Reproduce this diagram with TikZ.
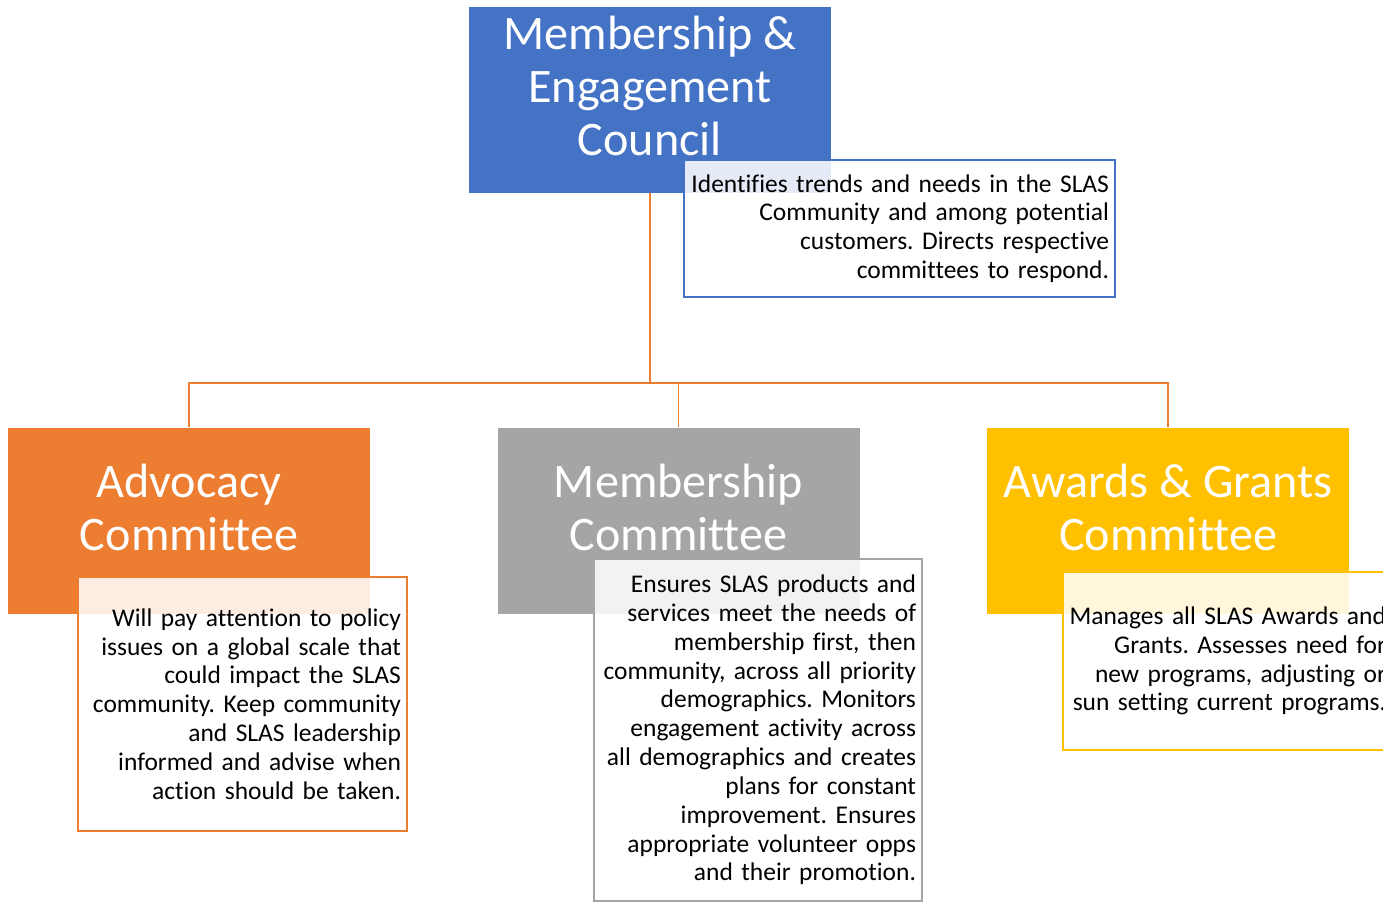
\documentclass[tikz,border=0pt]{standalone}
\usepackage{fontspec}
\setmainfont{Carlito}[Ligatures=NoCommon]
\usepackage{xcolor}
\usepackage{tikz}
\usetikzlibrary{calc}
\frenchspacing
\definecolor{blu}{HTML}{4472C4}
\definecolor{orng}{HTML}{ED7D31}
\definecolor{gry}{HTML}{A5A5A5}
\definecolor{gold}{HTML}{FFC000}
\tikzset{
  head/.style={rectangle, minimum width=7.24cm, minimum height=3.72cm, inner sep=0pt},
  ttl/.style={text=white, font=\fontsize{27.4}{30}\selectfont, align=center, inner sep=0pt},
  desc/.style={rectangle, line width=1.1pt, fill=white, fill opacity=0.86, text opacity=1,
    inner xsep=0.12cm, inner ysep=0pt, align=right, text=black,
    font=\fontsize{14.5}{16.4}\selectfont},
  link/.style={draw=orng, line width=1.1pt}
}

\begin{document}
\begin{tikzpicture}
  \useasboundingbox (0,0) rectangle (27.66,18.06);

  % coloured heads
  \node[head, fill=blu]  (council) at (13.00,16.06) {};
  \node[head, fill=orng] (adv)     at (3.78,7.65) {};
  \node[head, fill=gry]  (mem)     at (13.57,7.65) {};
  \node[head, fill=gold] (award)   at (23.36,7.65) {};

  \node[ttl] (council-t) at ($(council)+(0,0.28)$) {Membership \&\\Engagement\\Council};
  \node[ttl] (adv-t)     at ($(adv)+(0,0.26)$)     {Advocacy\\Committee};
  \node[ttl] (mem-t)     at ($(mem)+(0,0.26)$)     {Membership\\Committee};
  \node[ttl] (award-t)   at ($(award)+(0,0.26)$)   {Awards \& Grants\\Committee};

  % tree lines
  \draw[link] (council.south) -- ++(0,-3.80) coordinate (hub);
  \draw[link] (hub) -| (adv.north);
  \draw[link] (hub) -| (mem.north);
  \draw[link] (hub) -| (award.north);

  % description boxes, laid over the heads
  \node[desc, draw=blu, text width=8.38cm, minimum height=2.74cm] (council-d) at (17.99,13.49)
    {Identifies trends and needs in the SLAS\\Community and among potential\\customers. Directs respective\\committees to respond.};
  \node[desc, draw=orng, text width=6.34cm, minimum height=5.08cm] (adv-d) at (4.85,3.98)
    {Will pay attention to policy\\issues on a global scale that\\could impact the SLAS\\community. Keep community\\and SLAS leadership\\informed and advise when\\action should be taken.};
  \node[desc, draw=gry, text width=6.32cm, minimum height=6.84cm] (mem-d) at (15.16,3.46)
    {Ensures SLAS products and\\services meet the needs of\\membership first, then\\community, across all priority\\demographics. Monitors\\engagement activity across\\all demographics and creates\\plans for constant\\improvement. Ensures\\appropriate volunteer opps\\and their promotion.};
  \node[desc, draw=gold, text width=6.34cm, minimum height=3.56cm] (award-d) at (24.55,4.84)
    {Manages all SLAS Awards and\\Grants. Assesses need for\\new programs, adjusting or\\sun setting current programs.};
\end{tikzpicture}
\end{document}
